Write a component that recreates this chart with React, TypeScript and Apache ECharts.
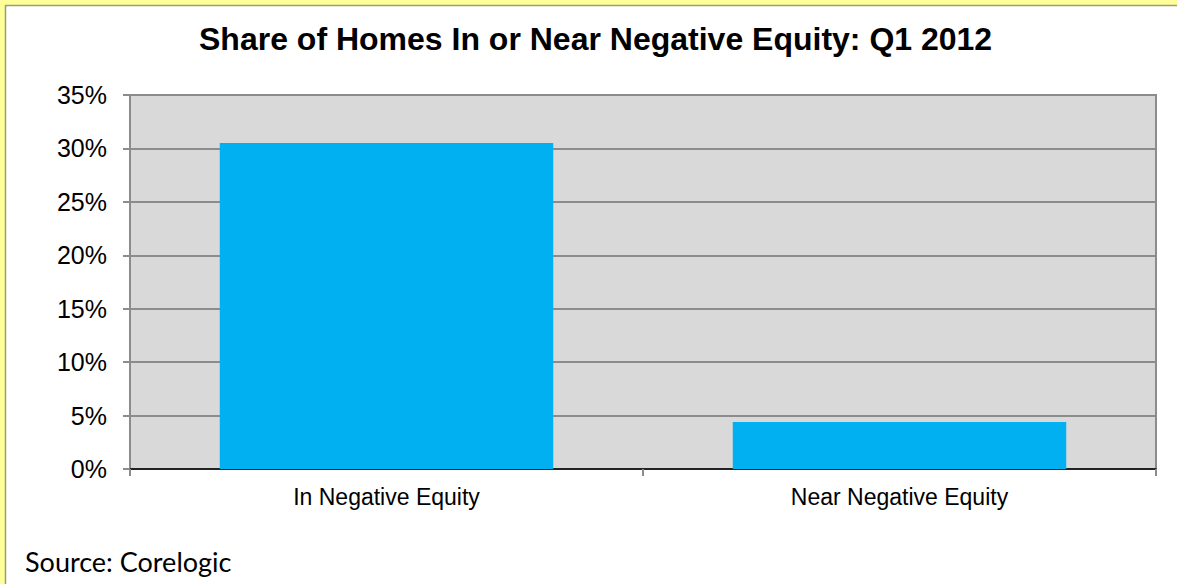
import React, { useEffect, useRef } from "react";
import * as echarts from "echarts";

const categories = ["In Negative Equity", "Near Negative Equity"];
const shareValues = [0.305, 0.044];
const yTicks = { min: 0, max: 0.35, interval: 0.05 };
const titleText = "Share of Homes In or Near Negative Equity: Q1 2012";
const sourceText = "Source: Corelogic";

export default function App() {
  const ref = useRef<HTMLDivElement>(null);
  useEffect(() => {
    if (!ref.current) return;
    const chart = echarts.init(ref.current, null, { renderer: "svg" });
    chart.setOption({
      animation: false,
      backgroundColor: "#FFFFFF",
      title: {
        text: titleText,
        left: 199,
        top: 23,
        padding: 0,
        textStyle: {
          fontFamily: "Liberation Sans",
          fontWeight: "bold",
          fontSize: 32,
          color: "#000000",
        },
      },
      grid: {
        left: 130,
        right: 21,
        top: 95,
        bottom: 115,
        show: true,
        backgroundColor: "#D9D9D9",
        borderColor: "#8C8C8C",
        borderWidth: 2,
      },
      xAxis: {
        type: "category",
        data: categories,
        axisLine: { lineStyle: { color: "#000000", width: 1.5 } },
        axisTick: { show: true, length: 7, lineStyle: { color: "#8C8C8C", width: 2 } },
        axisLabel: {
          margin: 16,
          fontFamily: "Liberation Sans",
          fontSize: 23,
          color: "#000000",
        },
      },
      yAxis: {
        type: "value",
        min: yTicks.min,
        max: yTicks.max,
        interval: yTicks.interval,
        axisLine: { show: true, lineStyle: { color: "#8C8C8C", width: 2 } },
        axisTick: { show: true, length: 7, lineStyle: { color: "#8C8C8C", width: 2 } },
        splitLine: { show: true, lineStyle: { color: "#8C8C8C", width: 2 } },
        axisLabel: {
          margin: 23,
          fontFamily: "Liberation Sans",
          fontSize: 25,
          color: "#000000",
          formatter: (v: number) => Math.round(v * 100) + "%",
        },
      },
      series: [
        {
          type: "bar",
          data: shareValues,
          barCategoryGap: "35%",
          itemStyle: { color: "#00B0F0" },
        },
      ],
      graphic: [
        { type: "rect", shape: { x: 0, y: 0, width: 1177, height: 5 }, style: { fill: "#FFFF99" } },
        { type: "rect", shape: { x: 0, y: 0, width: 5, height: 584 }, style: { fill: "#FFFF99" } },
        { type: "line", shape: { x1: 5, y1: 5.5, x2: 1177, y2: 5.5 }, style: { stroke: "#9C9C7A", lineWidth: 1.5 } },
        { type: "line", shape: { x1: 5.5, y1: 5, x2: 5.5, y2: 584 }, style: { stroke: "#9C9C7A", lineWidth: 1.5 } },
        {
          type: "text",
          left: 25,
          top: 548,
          style: {
            text: sourceText,
            fontFamily: "Lato",
            fontSize: 27,
            fill: "#000000",
          },
        },
      ],
    });
    return () => chart.dispose();
  }, []);
  return (
    <div
      ref={ref}
      style={{ position: "fixed", left: 0, top: 0, width: 1177, height: 584 }}
    />
  );
}
